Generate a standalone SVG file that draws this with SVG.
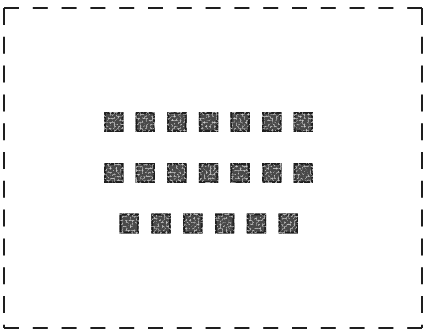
<svg xmlns="http://www.w3.org/2000/svg" width="425" height="335" viewBox="0 0 425 335">
<style>
.edge{stroke:#1e1e1e;stroke-width:2;fill:none}
.h{stroke-dasharray:15 13.8}
.v{stroke-dasharray:17 11.8}
.sq{fill:#4a4a4a;stroke:#1c1c1c;stroke-width:1.8;filter:url(#grain)}
</style>
<defs>
<filter id="grain" x="-10%" y="-10%" width="120%" height="120%">
<feTurbulence type="fractalNoise" baseFrequency="0.5" numOctaves="2" seed="7" result="n"/>
<feColorMatrix in="n" type="matrix" values="0 0 0 0 0.8  0 0 0 0 0.8  0 0 0 0 0.8  0 0 0 2.4 -1.2" result="spots"/>
<feComposite in="spots" in2="SourceGraphic" operator="atop" result="tex"/>
<feMerge><feMergeNode in="SourceGraphic"/><feMergeNode in="tex"/></feMerge>
</filter>
</defs>
<rect width="425" height="335" fill="#fff"/>
<g id="frame">
<line class="edge h" x1="4" y1="8" x2="422" y2="8"/>
<line class="edge h" x1="4" y1="328" x2="422" y2="328"/>
<line class="edge v" x1="4" y1="8" x2="4" y2="328"/>
<line class="edge v" x1="422" y1="8" x2="422" y2="328"/>
</g>
<g id="row1">
<g id="s1"><rect class="sq" x="105" y="113" width="17.5" height="18"/></g>
<g id="s2"><rect class="sq" x="136.6" y="113" width="17.5" height="18"/></g>
<g id="s3"><rect class="sq" x="168.2" y="113" width="17.5" height="18"/></g>
<g id="s4"><rect class="sq" x="199.8" y="113" width="17.5" height="18"/></g>
<g id="s5"><rect class="sq" x="231.4" y="113" width="17.5" height="18"/></g>
<g id="s6"><rect class="sq" x="263" y="113" width="17.5" height="18"/></g>
<g id="s7"><rect class="sq" x="294.6" y="113" width="17.5" height="18"/></g>
</g>
<g id="row2">
<g id="s8"><rect class="sq" x="105" y="164" width="17.5" height="18"/></g>
<g id="s9"><rect class="sq" x="136.6" y="164" width="17.5" height="18"/></g>
<g id="s10"><rect class="sq" x="168.2" y="164" width="17.5" height="18"/></g>
<g id="s11"><rect class="sq" x="199.8" y="164" width="17.5" height="18"/></g>
<g id="s12"><rect class="sq" x="231.4" y="164" width="17.5" height="18"/></g>
<g id="s13"><rect class="sq" x="263" y="164" width="17.5" height="18"/></g>
<g id="s14"><rect class="sq" x="294.6" y="164" width="17.5" height="18"/></g>
</g>
<g id="row3">
<g id="s15"><rect class="sq" x="120.5" y="214.5" width="17.5" height="18"/></g>
<g id="s16"><rect class="sq" x="152.3" y="214.5" width="17.5" height="18"/></g>
<g id="s17"><rect class="sq" x="184.1" y="214.5" width="17.5" height="18"/></g>
<g id="s18"><rect class="sq" x="215.9" y="214.5" width="17.5" height="18"/></g>
<g id="s19"><rect class="sq" x="247.7" y="214.5" width="17.5" height="18"/></g>
<g id="s20"><rect class="sq" x="279.5" y="214.5" width="17.5" height="18"/></g>
</g>
</svg>
